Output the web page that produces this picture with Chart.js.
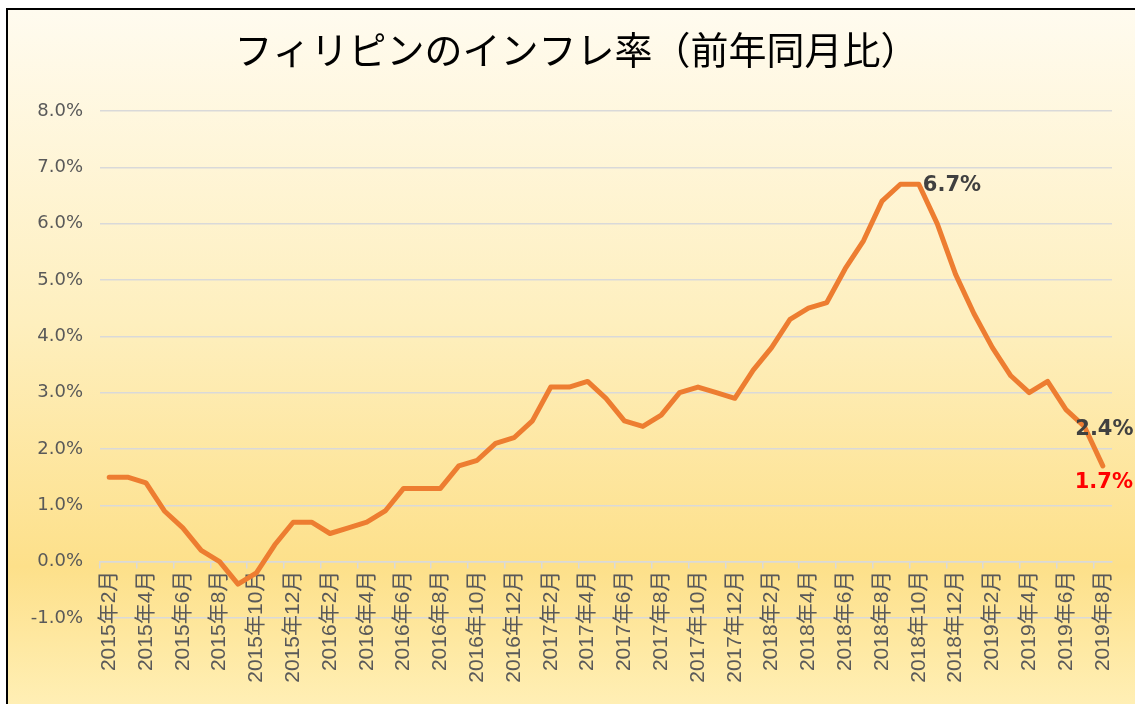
<!DOCTYPE html>
<html>
<head>
<meta charset="utf-8">
<script src="https://cdn.jsdelivr.net/npm/chart.js@4"></script>
<style>
  body { margin: 0; overflow: hidden; }
  #frame {
    position: absolute; left: 6px; top: 8px; width: 1200px; height: 696px;
    border-left: 2px solid #000; border-top: 2px solid #000;
    background: linear-gradient(to bottom, #fffbef 0%, #feefbe 45%, #fde08a 80%, #ffefb5 100%);
  }
  #wrap { position: absolute; left: 0; top: 0; width: 1135px; height: 704px; }
</style>
</head>
<body>
<div id="frame"></div>
<div id="wrap"><canvas id="line_PH"></canvas></div>
<script>

// months 2015/2 .. 2019/8
const months = [];
for (let y = 2015; y <= 2019; y++) {
    for (let m = 1; m <= 12; m++) {
        if ((y === 2015 && m < 2) || (y === 2019 && m > 8)) continue;
        months.push(y + "年" + m + "月");
    }
}

const inflation = [
    1.5, 1.5, 1.4, 0.9, 0.6, 0.2, 0.0, -0.4, -0.2, 0.3, 0.7,
    0.7, 0.5, 0.6, 0.7, 0.9, 1.3, 1.3, 1.3, 1.7, 1.8, 2.1, 2.2,
    2.5, 3.1, 3.1, 3.2, 2.9, 2.5, 2.4, 2.6, 3.0, 3.1, 3.0, 2.9,
    3.4, 3.8, 4.3, 4.5, 4.6, 5.2, 5.7, 6.4, 6.7, 6.7, 6.0, 5.1,
    4.4, 3.8, 3.3, 3.0, 3.2, 2.7, 2.4, 1.7
];

const chartTitle = "フィリピンのインフレ率（前年同月比）";

// which points get a value label, and how
const labelIdx = [44, 53, 54];
const labelColor = ["#404040", "#404040", "#ff0000"];
const labelAlign = ["left", "center", "center"];
const labelDx = [4, 20, 1];
const labelDy = [1, 3, 17];

const valueLabels = {
    id: "valueLabels",
    afterDatasetsDraw(chart) {
        const ctx = chart.ctx;
        const meta = chart.getDatasetMeta(0);
        ctx.save();
        ctx.font = "bold 21px 'DejaVu Sans'";
        ctx.textBaseline = "middle";
        labelIdx.forEach((idx, k) => {
            const pt = meta.data[idx];
            ctx.fillStyle = labelColor[k];
            ctx.textAlign = labelAlign[k];
            ctx.fillText(inflation[idx].toFixed(1) + "%", pt.x + labelDx[k], pt.y + labelDy[k]);
        });
        ctx.restore();
    }
};

// title drawn by hand so it can sit a bit right of centre like the original
const titlePlugin = {
    id: "titlePlugin",
    afterDraw(chart) {
        const ctx = chart.ctx;
        ctx.save();
        ctx.font = "38px 'Noto Sans CJK JP'";
        ctx.fillStyle = "#000";
        ctx.textAlign = "center";
        ctx.textBaseline = "middle";
        ctx.fillText(chartTitle, chart.width / 2 + 9, 50);
        ctx.restore();
    }
};

const config_PH = {
    type: "line",
    data: {
        labels: months,
        datasets: [{
            label: "inflation",
            data: inflation,
            borderColor: "#ED7D31",
            borderWidth: 5,
            borderJoinStyle: "round",
            borderCapStyle: "round",
            pointRadius: 0,
            tension: 0
        }]
    },
    options: {
        responsive: false,
        animation: false,
        layout: { padding: { left: 0, right: 23, top: 111, bottom: 86 } },
        plugins: {
            legend: { display: false },
            tooltip: { enabled: false },
            title: { display: false }
        },
        scales: {
            y: {
                min: -1, max: 8,
                afterFit(scale) { scale.width = 100; },
                ticks: {
                    stepSize: 1,
                    padding: 17,
                    color: "#595959",
                    font: { family: "'DejaVu Sans'", size: 18 },
                    callback: v => v.toFixed(1) + "%"
                },
                grid: { color: "#d9d9d9", lineWidth: 1.5, drawTicks: false },
                border: { display: false }
            },
            x: {
                position: { y: 0 },
                offset: true,
                grid: {
                    offset: true,
                    drawOnChartArea: false,
                    tickLength: 6,
                    lineWidth: 1.5,
                    color: c => (c.index % 2 === 0 && c.index < months.length) ? "#d9d9d9" : "rgba(0,0,0,0)"
                },
                border: { display: true, color: "#d9d9d9", width: 1.5 },
                ticks: {
                    autoSkip: false,
                    maxRotation: 90,
                    minRotation: 90,
                    padding: 3,
                    color: "#595959",
                    font: { family: "'Liberation Sans', 'Noto Sans CJK JP'", size: 21 },
                    callback: (v, i) => i % 2 === 0 ? months[i] : ""
                }
            }
        }
    },
    plugins: [valueLabels, titlePlugin]
};

const cv = document.getElementById("line_PH");
cv.width = 1135;
cv.height = 704;
const myChart_PH = new Chart(cv.getContext("2d"), config_PH);
</script>
</body>
</html>
